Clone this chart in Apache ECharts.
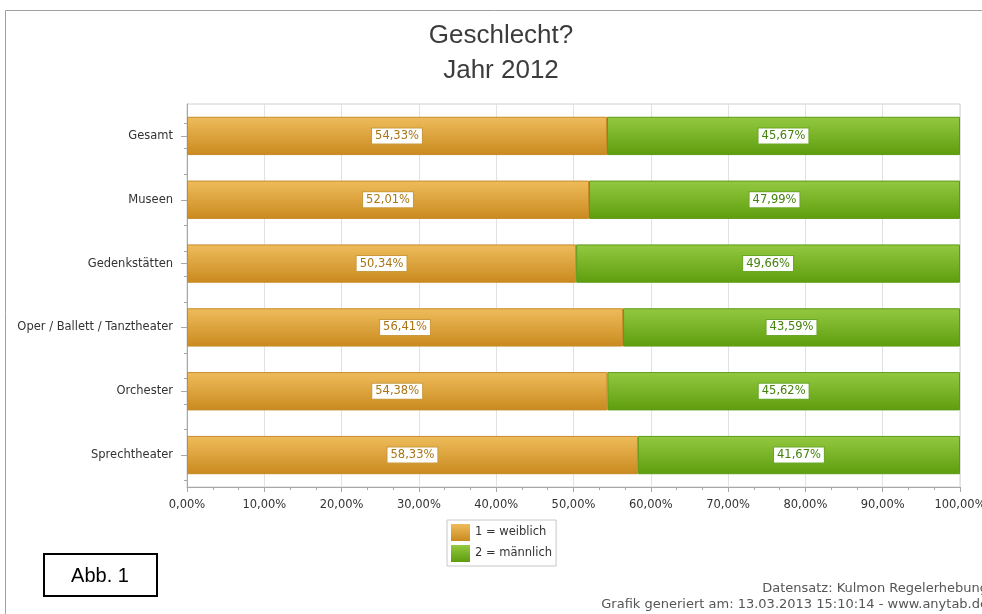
<!DOCTYPE html>
<html>
<head>
<meta charset="utf-8">
<script src="https://cdn.jsdelivr.net/npm/echarts@6/dist/echarts.min.js"></script>
<style>html,body{margin:0;padding:0;background:#fff;}#c{width:982px;height:614px;}</style>
</head>
<body>
<div id="c"></div>
<script>
var categories = ['Gesamt', 'Museen', 'Gedenkstätten', 'Oper / Ballett / Tanztheater', 'Orchester', 'Sprechtheater'];
var weiblich = [54.33, 52.01, 50.34, 56.41, 54.38, 58.33];
var maennlich = [45.67, 47.99, 49.66, 43.59, 45.62, 41.67];
var seriesNames = ['1 = weiblich', '2 = männlich'];
var xTicks = [0, 10, 20, 30, 40, 50, 60, 70, 80, 90, 100];
var titleLines = ['Geschlecht?', 'Jahr 2012'];
var footerLines = ['Datensatz: Kulmon Regelerhebung', 'Grafik generiert am: 13.03.2013 15:10:14 - www.anytab.de'];
var figLabel = 'Abb. 1';

function pct(v) { return v.toFixed(2).replace('.', ',') + '%'; }

var minorCats = [];
for (var i = 0; i < categories.length * 5; i++) minorCats.push('');

var orange = new echarts.graphic.LinearGradient(0, 0, 0, 1, [
  {offset: 0, color: '#EFBC5C'}, {offset: 1, color: '#C98A1F'}]);
var green = new echarts.graphic.LinearGradient(0, 0, 0, 1, [
  {offset: 0, color: '#94C941'}, {offset: 1, color: '#5E9D0D'}]);

var chart = echarts.init(document.getElementById('c'), null, {renderer: 'canvas'});
var font = "'DejaVu Sans', Verdana, sans-serif";

chart.setOption({
  animation: false,
  backgroundColor: '#fff',
  grid: {left: 187, right: 22, top: 104, bottom: 127, containLabel: false, outerBoundsMode: 'none',
    show: true, borderColor: '#d0d0d0', borderWidth: 1, backgroundColor: 'transparent'},
  legend: {
    orient: 'vertical', left: 447, top: 520,
    padding: [4, 4, 4, 4], itemGap: 4, itemWidth: 19, itemHeight: 17,
    borderColor: '#c8c8c8', borderWidth: 1,
    icon: 'rect',
    itemStyle: {borderWidth: 0},
    textStyle: {fontFamily: font, fontSize: 11.5, color: '#333'},
    data: seriesNames
  },
  xAxis: {
    type: 'value', min: xTicks[0], max: xTicks[xTicks.length - 1], interval: 10,
    axisLine: {show: true, lineStyle: {color: '#a8a8a8'}},
    axisTick: {show: true, length: 5, lineStyle: {color: '#a8a8a8'}},
    minorTick: {show: true, splitNumber: 3, length: 3, lineStyle: {color: '#a8a8a8'}},
    splitLine: {show: true, lineStyle: {color: '#e2e2e2'}},
    axisLabel: {formatter: pct, fontFamily: font, fontSize: 11.5, color: '#333', margin: 12}
  },
  yAxis: [{
    type: 'category', data: categories, inverse: true,
    axisLine: {show: true, lineStyle: {color: '#a8a8a8'}},
    axisTick: {show: true, alignWithLabel: true, length: 6, lineStyle: {color: '#a8a8a8'}},
    axisLabel: {fontFamily: font, fontSize: 11.5, color: '#333', margin: 14},
    splitLine: {show: false}
  }, {
    type: 'category', data: minorCats, position: 'left',
    axisLine: {show: false},
    axisTick: {show: true, alignWithLabel: true, length: 3, lineStyle: {color: '#a8a8a8'}},
    axisLabel: {show: false},
    splitLine: {show: false}
  }],
  series: [{
    name: seriesNames[0], type: 'bar', stack: 'g', data: weiblich, barCategoryGap: '40%',
    itemStyle: {color: orange, borderColor: '#C68A28', borderWidth: 1},
    label: {show: true, position: 'inside', formatter: function(p){ return pct(p.value); },
      fontFamily: font, fontSize: 11.5, color: '#A87414', backgroundColor: '#fff',
      borderColor: '#C99A3E', borderWidth: 1, padding: [2, 3, 1, 3]}
  }, {
    name: seriesNames[1], type: 'bar', stack: 'g', data: maennlich,
    itemStyle: {color: green, borderColor: '#5C9A14', borderWidth: 1},
    label: {show: true, position: 'inside', formatter: function(p){ return pct(p.value); },
      fontFamily: font, fontSize: 11.5, color: '#44820C', backgroundColor: '#fff',
      borderColor: '#6AA82A', borderWidth: 1, padding: [2, 3, 1, 3]}
  }],
  graphic: [
    {type: 'rect', shape: {x: 5.5, y: 10.5, width: 1100, height: 700}, style: {fill: 'none', stroke: '#a0a0a0', lineWidth: 1}, z: -1},
    {type: 'text', x: 501, y: 36, style: {text: titleLines[0], font: "26px 'Liberation Sans', Arial, sans-serif", fill: '#3c3c3c', textAlign: 'center', textVerticalAlign: 'middle'}},
    {type: 'text', x: 501, y: 71, style: {text: titleLines[1], font: "26px 'Liberation Sans', Arial, sans-serif", fill: '#3c3c3c', textAlign: 'center', textVerticalAlign: 'middle'}},
    {type: 'rect', shape: {x: 44, y: 554, width: 113, height: 42}, style: {fill: '#fff', stroke: '#000', lineWidth: 2}},
    {type: 'text', x: 100, y: 576, style: {text: figLabel, font: "20px 'Liberation Sans', Arial, sans-serif", fill: '#000', textAlign: 'center', textVerticalAlign: 'middle'}},
    {type: 'text', x: 988, y: 589, style: {text: footerLines[0], font: "13px 'DejaVu Sans', Verdana, sans-serif", fill: '#555', textAlign: 'right', textVerticalAlign: 'middle'}},
    {type: 'text', x: 988, y: 605, style: {text: footerLines[1], font: "13px 'DejaVu Sans', Verdana, sans-serif", fill: '#555', textAlign: 'right', textVerticalAlign: 'middle'}}
  ]
});
</script>
</body>
</html>
